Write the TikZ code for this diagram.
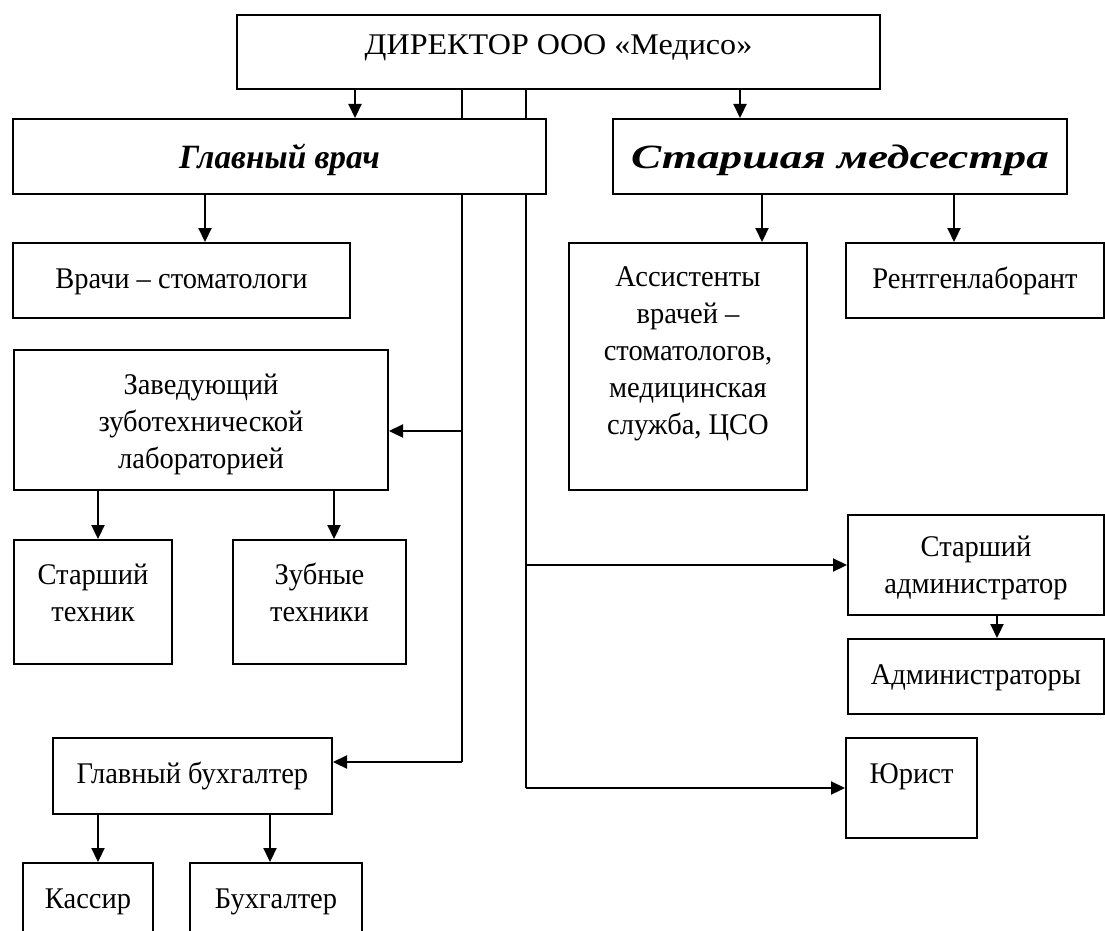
\documentclass[tikz,border=0pt]{standalone}
\usepackage{fontspec}
\setmainfont{Liberation Serif}[FakeStretch=0.95]
\usetikzlibrary{arrows.meta}

\begin{document}
\begin{tikzpicture}[
    x=1pt, y=-1pt,
    font=\fontsize{30}{37}\selectfont,
    box/.style={draw, line width=2pt, anchor=north west, align=center, inner sep=0pt},
    head/.style={box, font=\fontsize{34}{37}\selectfont\bfseries\itshape},
    bus/.style={line width=1.5pt},
    arr/.style={-{Triangle[length=14pt,width=13pt]}, line width=2.2pt}
]
\useasboundingbox (0,0) rectangle (1105,931);
\clip (0,0) rectangle (1105,931);

\node[box, minimum width=643, text height=40, text depth=34] (dir) at (236,14) {\addfontfeatures{FakeStretch=1.07}ДИРЕКТОР ООО «Медисо»};

\node[head, minimum width=533, text height=49, text depth=26] (glav) at (12,118) {\addfontfeatures{FakeStretch=0.98}Главный врач};
\node[head, minimum width=454, text height=49, text depth=26] (stmed) at (612,118) {\addfontfeatures{FakeStretch=1.33}Старшая медсестра};

\node[box, minimum width=337, text height=45, text depth=30] (vrachi) at (12,242) {Врачи – стоматологи};
\node[box, minimum width=374, text height=118, text depth=22] (zav) at (13,349) {Заведующий\\зуботехнической\\лабораторией};
\node[box, minimum width=158, text height=81, text depth=43] (sttech) at (13,539) {Старший\\техник};
\node[box, minimum width=173, text height=81, text depth=43] (zubtech) at (232,539) {Зубные\\техники};
\node[box, minimum width=279, text height=45, text depth=31] (glbuh) at (52,737) {Главный бухгалтер};
\node[box, minimum width=130, text height=45, text depth=55] (kassir) at (22,862) {Кассир};
\node[box, minimum width=172, text height=45, text depth=55] (buhg) at (189,862) {Бухгалтер};

\node[box, minimum width=238, text height=191, text depth=56] (assist) at (568,242) {Ассистенты\\врачей –\\стоматологов,\\медицинская\\служба, ЦСО};
\node[box, minimum width=258, text height=45, text depth=30] (rentgen) at (845,242) {Рентгенлаборант};
\node[box, minimum width=256, text height=78, text depth=22] (stadm) at (847,514) {Старший\\администратор};
\node[box, minimum width=256, text height=45, text depth=30] (adm) at (847,638) {Администраторы};
\node[box, minimum width=131, text height=45, text depth=55] (jurist) at (845,737) {Юрист};

% x positions of the vertical links
\coordinate (xglav) at (355,0);
\coordinate (xstmed) at (740,0);
\coordinate (xvrachi) at (205,0);
\coordinate (xassist) at (762,0);
\coordinate (xrentgen) at (954,0);
\coordinate (xsttech) at (98,0);
\coordinate (xzubtech) at (334,0);
\coordinate (xkassir) at (98,0);
\coordinate (xbuhg) at (270,0);
\coordinate (xadm) at (997,0);
\coordinate (lbus) at (462,0);
\coordinate (rbus) at (526,0);
\coordinate (zavin) at (462,431);
\coordinate (buhin) at (462,762);

\draw[arr] (dir.south -| xglav) -- (glav.north -| xglav);
\draw[arr] (dir.south -| xstmed) -- (stmed.north -| xstmed);
\draw[arr] (glav.south -| xvrachi) -- (vrachi.north -| xvrachi);
\draw[arr] (stmed.south -| xassist) -- (assist.north -| xassist);
\draw[arr] (stmed.south -| xrentgen) -- (rentgen.north -| xrentgen);
\draw[arr] (zav.south -| xsttech) -- (sttech.north -| xsttech);
\draw[arr] (zav.south -| xzubtech) -- (zubtech.north -| xzubtech);
\draw[arr] (glbuh.south -| xkassir) -- (kassir.north -| xkassir);
\draw[arr] (glbuh.south -| xbuhg) -- (buhg.north -| xbuhg);
\draw[arr] (stadm.south -| xadm) -- (adm.north -| xadm);

% two lines from the director
\draw[bus] (dir.south -| lbus) -- (glav.north -| lbus);
\draw[bus] (glav.south -| lbus) -- (buhin);
\draw[bus] (dir.south -| rbus) -- (glav.north -| rbus);
\draw[bus] (glav.south -| rbus) -- (rbus |- jurist.west);
\draw[arr] (zavin) -- (zavin -| zav.east);
\draw[arr] (buhin) -- (buhin -| glbuh.east);
\draw[arr] (rbus |- stadm.west) -- (stadm.west);
\draw[arr] (rbus |- jurist.west) -- (jurist.west);
\end{tikzpicture}
\end{document}
